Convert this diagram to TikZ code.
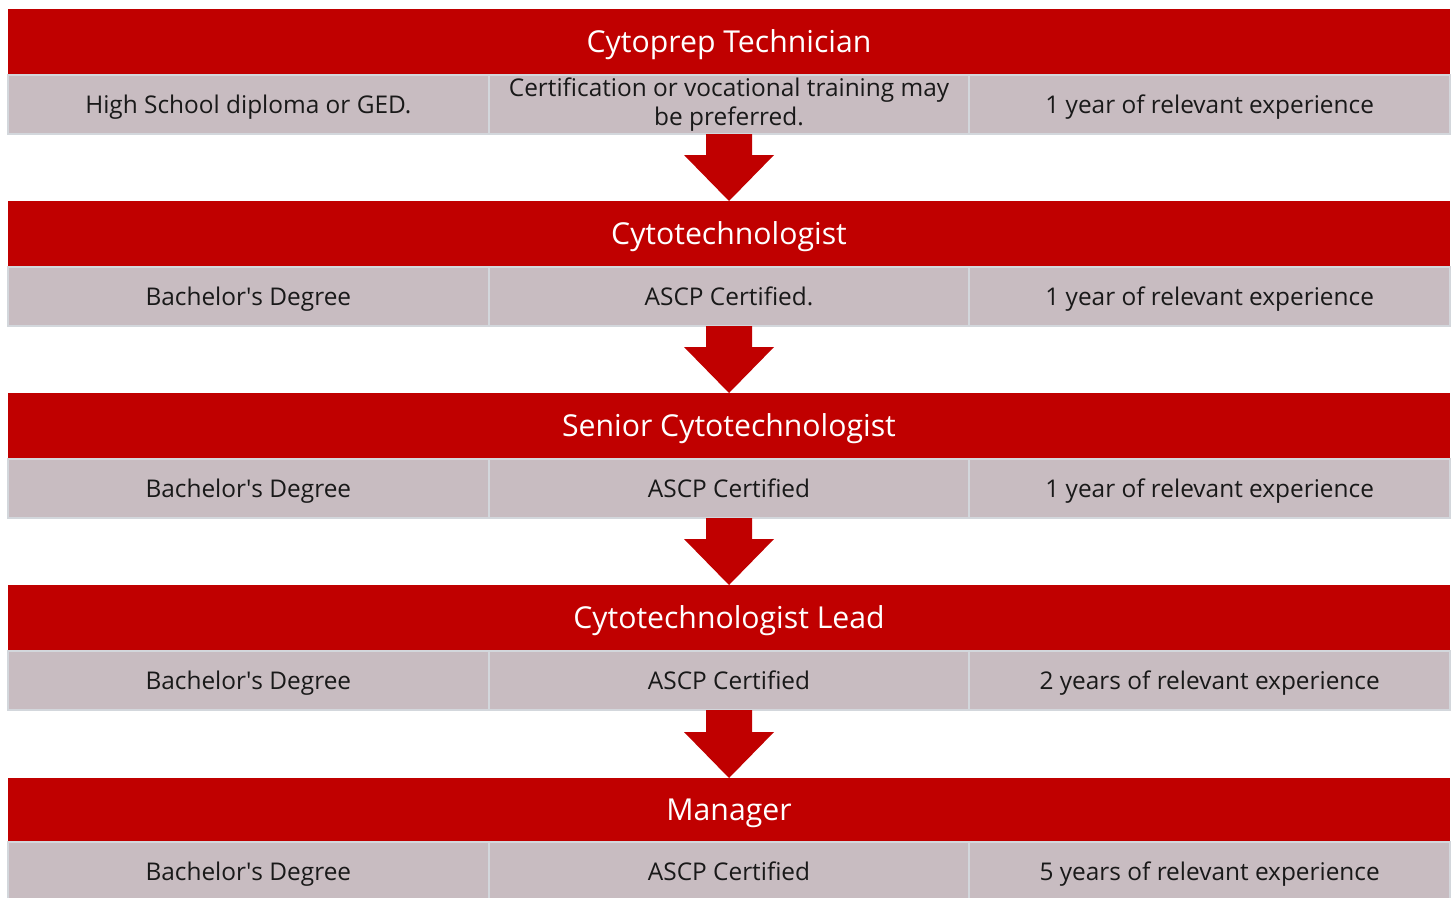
\documentclass[tikz,border=0pt]{standalone}
\usepackage{fontspec}
\setmainfont{Open Sans}
\usetikzlibrary{arrows.meta,positioning}

\definecolor{jobred}{HTML}{C00000}
\definecolor{reqgrey}{HTML}{C8BCC1}
\definecolor{reqline}{HTML}{D3D7DC}

\begin{document}
\begin{tikzpicture}[x=1pt,y=-1pt,
  head/.style={fill=jobred,text=white,minimum width=1442pt,minimum height=66pt,
    inner sep=0pt,outer sep=0pt,anchor=north west,text height=21.6pt,text depth=0pt,
    font=\fontsize{30.2}{34}\selectfont},
  req/.style={fill=reqgrey,draw=reqline,line width=2pt,minimum width=480.67pt,
    minimum height=59pt,inner sep=0pt,outer sep=0pt,text=black!90,align=center,
    text height=17.4pt,text depth=0pt,font=\fontsize{24.4}{29.5}\selectfont},
  step arrow/.style={draw=jobred,line width=46pt,
    -{Triangle[width=90pt,length=46pt,line width=0pt]}}]

\clip (0,0) rectangle (1455,897);

\node[head] (H1) at (8,9) {Cytoprep Technician};
\node[req,below=0pt of H1.south west,anchor=north west] (A1) {High School diploma or GED.};
\node[req,right=0pt of A1,text height={},text depth={}] (B1) {Certification or vocational training may\\be preferred.};
\node[req,right=0pt of B1] (C1) {1 year of relevant experience};

\node[head] (H2) at (8,201) {Cytotechnologist};
\node[req,below=0pt of H2.south west,anchor=north west] (A2) {Bachelor\textquotesingle s Degree};
\node[req,right=0pt of A2] (B2) {ASCP Certified.};
\node[req,right=0pt of B2] (C2) {1 year of relevant experience};

\node[head] (H3) at (8,393) {Senior Cytotechnologist};
\node[req,below=0pt of H3.south west,anchor=north west] (A3) {Bachelor\textquotesingle s Degree};
\node[req,right=0pt of A3] (B3) {ASCP Certified};
\node[req,right=0pt of B3] (C3) {1 year of relevant experience};

\node[head] (H4) at (8,585) {Cytotechnologist Lead};
\node[req,below=0pt of H4.south west,anchor=north west] (A4) {Bachelor\textquotesingle s Degree};
\node[req,right=0pt of A4] (B4) {ASCP Certified};
\node[req,right=0pt of B4] (C4) {2 years of relevant experience};

\node[head,minimum height=64pt] (H5) at (8,778) {Manager};
\node[req,below=0pt of H5.south west,anchor=north west] (A5) {Bachelor\textquotesingle s Degree};
\node[req,right=0pt of A5] (B5) {ASCP Certified};
\node[req,right=0pt of B5] (C5) {5 years of relevant experience};

\path
  (B1) edge[step arrow] (H2)
  (B2) edge[step arrow] (H3)
  (B3) edge[step arrow] (H4)
  (B4) edge[step arrow] (H5);

\end{tikzpicture}
\end{document}
